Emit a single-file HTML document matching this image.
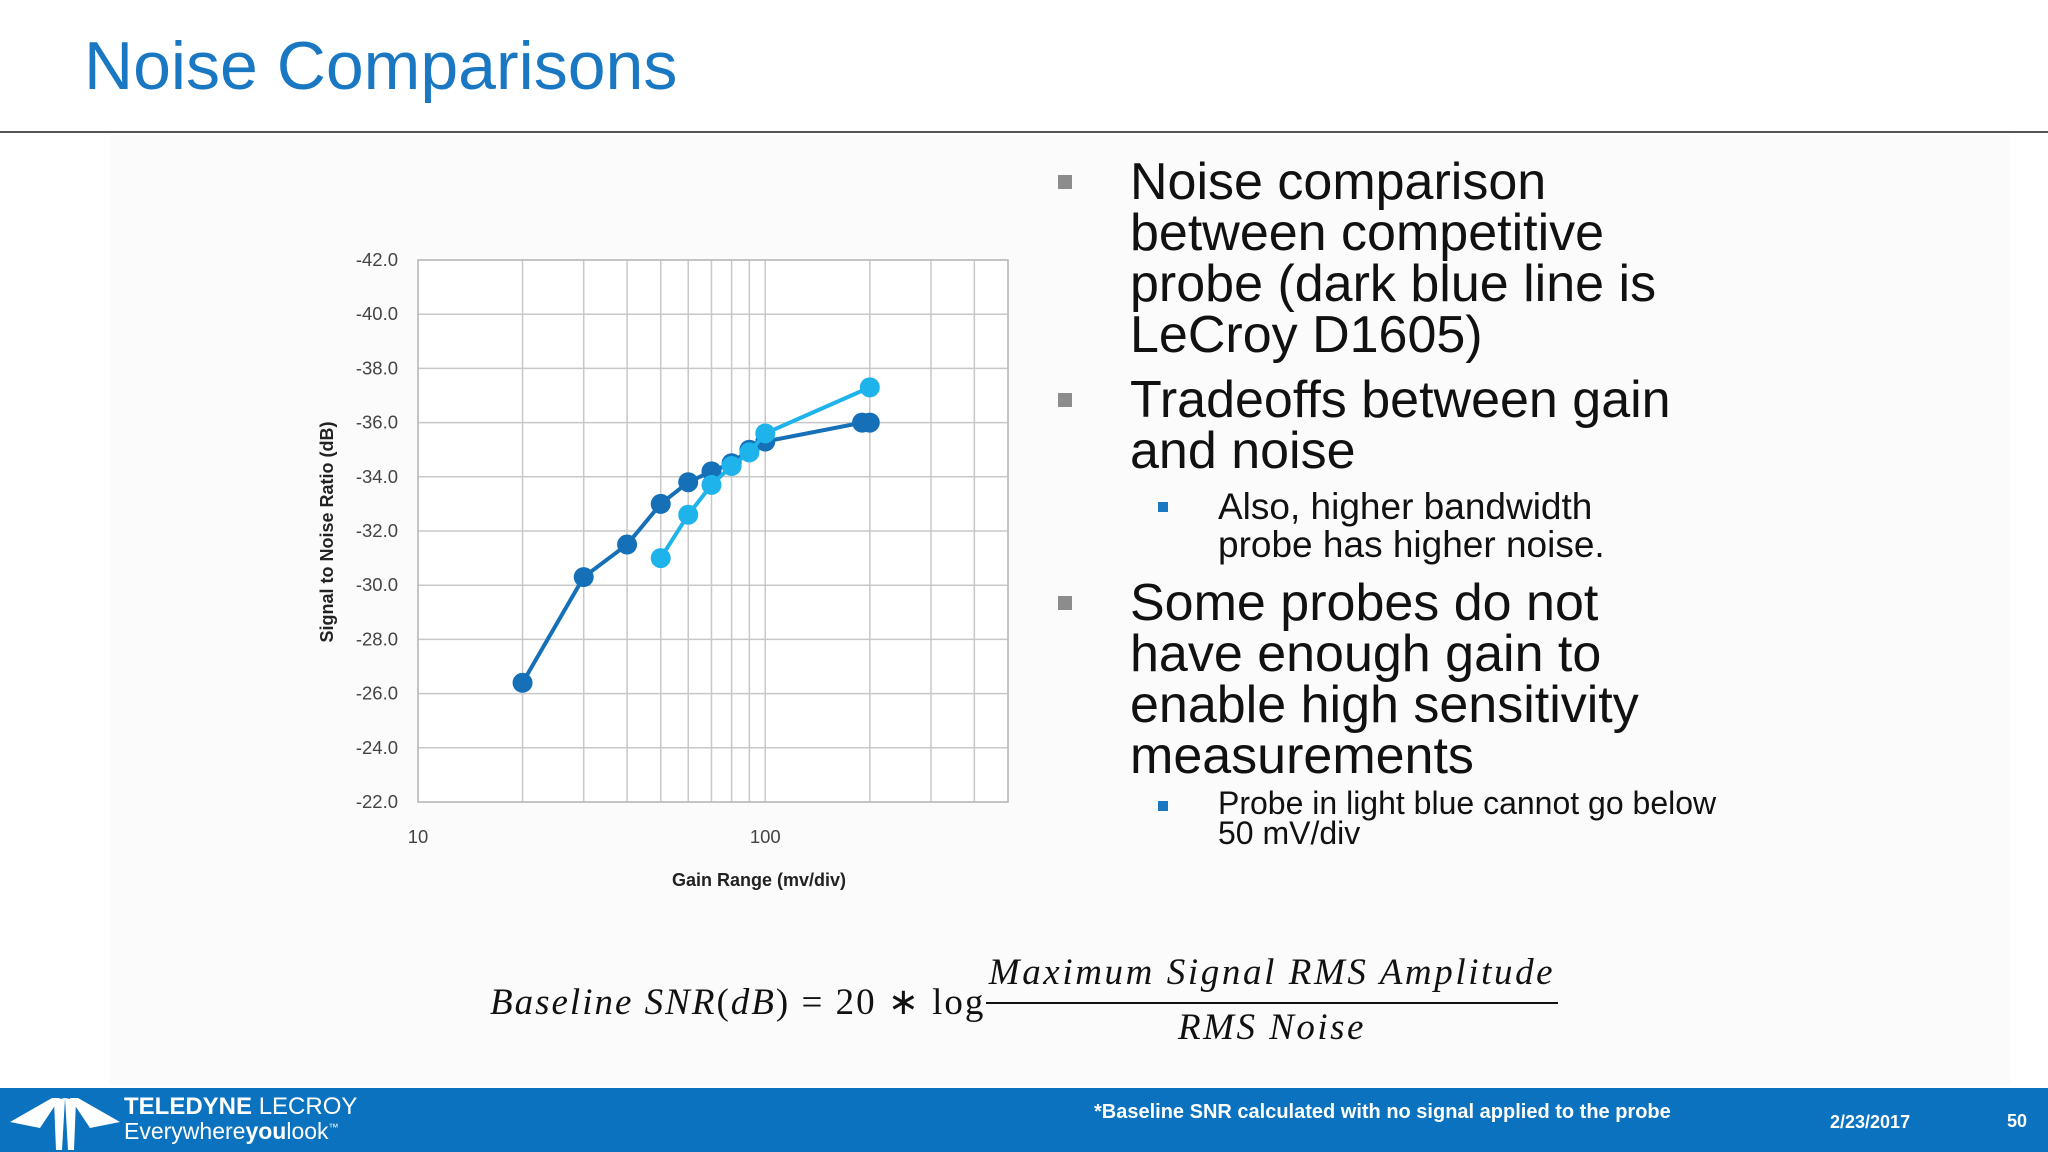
<!DOCTYPE html>
<html><head><meta charset="utf-8"><style>
body{margin:0;width:2048px;height:1152px;position:relative;background:#fff;overflow:hidden;font-family:"Liberation Sans",sans-serif}
.a{position:absolute;white-space:nowrap}
.b{font-size:52px;line-height:51px;color:#111}
.s{font-size:37px;line-height:38px;color:#111}
.sq{position:absolute;background:#8c8c8c;width:14px;height:14px}
.sq2{position:absolute;background:#1a78c2;width:10px;height:10px}
.m{font-family:"Liberation Serif",serif;font-style:italic;font-size:37px;color:#111}
</style></head><body>
<div class="a" style="left:110px;top:135px;width:1900px;height:950px;background:#fbfbfb"></div>
<div class="a" style="left:84px;top:27px;font-size:68px;color:#1a78c2">Noise Comparisons</div>
<div class="a" style="left:0;top:131px;width:2048px;height:2px;background:#555"></div>

<svg class="a" style="left:0;top:0" width="1100" height="1080" id="chart"></svg>

<div class="sq" style="left:1058px;top:175px"></div>
<div class="a b" style="left:1130px;top:157px">Noise comparison<br>between competitive<br>probe (dark blue line is<br>LeCroy D1605)</div>
<div class="sq" style="left:1058px;top:393px"></div>
<div class="a b" style="left:1130px;top:375px">Tradeoffs between gain<br>and noise</div>
<div class="sq2" style="left:1158px;top:502px"></div>
<div class="a s" style="left:1218px;top:488px">Also, higher bandwidth<br>probe has higher noise.</div>
<div class="sq" style="left:1058px;top:596px"></div>
<div class="a b" style="left:1130px;top:578px">Some probes do not<br>have enough gain to<br>enable high sensitivity<br>measurements</div>
<div class="sq2" style="left:1158px;top:801px"></div>
<div class="a" style="left:1218px;top:788px;font-size:32px;line-height:30px;color:#111">Probe in light blue cannot go below<br>50 mV/div</div>

<div class="a m" style="left:490px;top:980px;letter-spacing:2.0px">Baseline SNR<span style="font-style:normal">(</span>dB<span style="font-style:normal">) = 20 ∗ log</span></div>
<div class="a m" style="left:986px;top:951px;width:572px;text-align:center;letter-spacing:2.6px">Maximum Signal RMS Amplitude</div>
<div class="a" style="left:986px;top:1002px;width:572px;height:2px;background:#111"></div>
<div class="a m" style="left:986px;top:1006px;width:572px;text-align:center;letter-spacing:2.5px">RMS Noise</div>

<div class="a" style="left:0;top:1088px;width:2048px;height:64px;background:#0a72be"></div>
<svg class="a" style="left:10px;top:1094px" width="110" height="56"><polygon points="0,28 42,4 50,4 30,34" fill="#fff"/><polygon points="110,28 68,4 60,4 80,34" fill="#fff"/><polygon points="44,6 55,4 52,56 46,56" fill="#fff"/><polygon points="66,6 55,4 58,56 64,56" fill="#fff"/></svg>
<div class="a" style="left:124px;top:1093px;color:#fff;font-size:24px;font-weight:bold">TELEDYNE <span style="font-weight:normal">LECROY</span></div>
<div class="a" style="left:124px;top:1118px;color:#fff;font-size:23px">Everywhere<b>you</b>look<sup style="font-size:10px">™</sup></div>
<div class="a" style="left:1094px;top:1101px;color:#fff;font-size:20px;font-weight:bold">*Baseline SNR calculated with no signal applied to the probe</div>
<div class="a" style="left:1830px;top:1112px;color:#fff;font-size:18px;font-weight:bold">2/23/2017</div>
<div class="a" style="left:2007px;top:1111px;color:#fff;font-size:18px;font-weight:bold">50</div>

<script>
const darkX=[20,30,40,50,60,70,80,90,100,190,200];
const darkY=[-26.4,-30.3,-31.5,-33.0,-33.8,-34.2,-34.5,-35.0,-35.3,-36.0,-36.0];
const lightX=[50,60,70,80,90,100,200];
const lightY=[-31.0,-32.6,-33.7,-34.4,-34.9,-35.6,-37.3];
const yTicks=[-42,-40,-38,-36,-34,-32,-30,-28,-26,-24,-22];
const xGrid=[10,20,30,40,50,60,70,80,90,100,200,300,400,500];
const xLabels=[10,100];
const L=418,R=1008,T=260,B=802;
const xs=v=>L+(Math.log10(v)-1)/(Math.log10(500)-1)*(R-L);
const ys=v=>T+(v-(-42))/((-22)-(-42))*(B-T);
const svg=document.getElementById('chart');const NS='http://www.w3.org/2000/svg';
function mk(t,a){const e=document.createElementNS(NS,t);for(const k in a)e.setAttribute(k,a[k]);svg.appendChild(e);return e;}
mk('rect',{x:L,y:T,width:R-L,height:B-T,fill:'#fff'});
xGrid.forEach(v=>{const e=mk('line',{x1:xs(v),x2:xs(v),y1:T,y2:B,stroke:'#c8c8c8','stroke-width':1.5});

});
yTicks.forEach(v=>{const e=mk('line',{x1:L,x2:R,y1:ys(v),y2:ys(v),stroke:'#c8c8c8','stroke-width':1.5});


const t=mk('text',{x:398,y:ys(v)+6,'text-anchor':'end','font-size':18.5,fill:'#444','font-family':'Liberation Sans, sans-serif'});t.textContent=v.toFixed(1);

});
mk('rect',{x:L,y:T,width:R-L,height:B-T,fill:'none',stroke:'#bbb','stroke-width':1.5});
xLabels.forEach(v=>{const t=mk('text',{x:xs(v),y:843,'text-anchor':'middle','font-size':18.5,fill:'#444','font-family':'Liberation Sans, sans-serif'});t.textContent=v;

});
let t=mk('text',{x:759,y:886,'text-anchor':'middle','font-size':18,'font-weight':'bold',fill:'#222','font-family':'Liberation Sans, sans-serif'});t.textContent='Gain Range (mv/div)';


t=mk('text',{x:0,y:0,'text-anchor':'middle','font-size':18,'font-weight':'bold',fill:'#222','font-family':'Liberation Sans, sans-serif',transform:'translate(333,532) rotate(-90)'});t.textContent='Signal to Noise Ratio (dB)';


function series(X,Y,c,n){const p=mk('polyline',{points:X.map((x,i)=>xs(x)+','+ys(Y[i])).join(' '),fill:'none',stroke:c,'stroke-width':4});


X.forEach((x,i)=>{const m=mk('circle',{cx:xs(x),cy:ys(Y[i]),r:10,fill:c});

});}
series(darkX,darkY,'#1570b8','lecroy-d1605');
series(lightX,lightY,'#1eb3ea','competitor-probe');
</script>
</body></html>
